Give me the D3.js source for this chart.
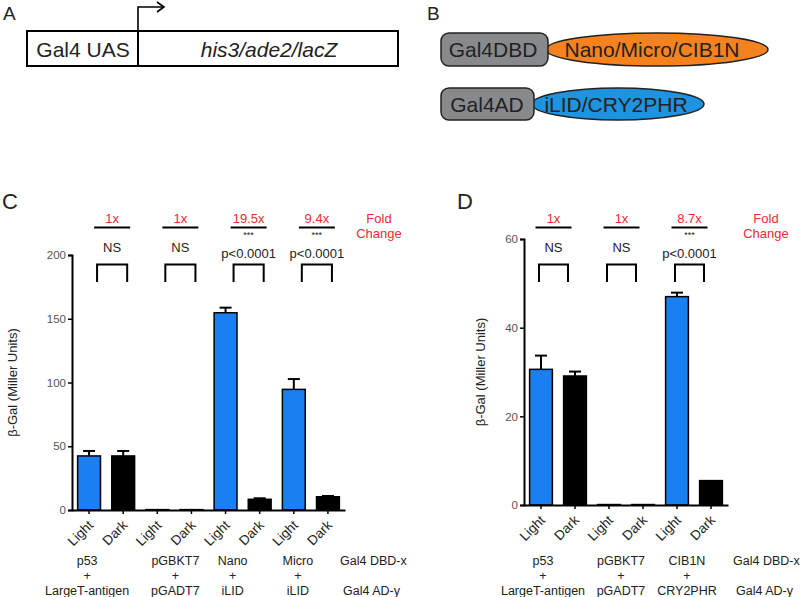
<!DOCTYPE html>
<html><head><meta charset="utf-8">
<script src="https://cdn.jsdelivr.net/npm/d3@7/dist/d3.min.js"></script>
<style>body{margin:0;background:#fff}svg{display:block;font-family:"Liberation Sans",Arial,sans-serif}</style>
</head><body><svg id="c" width="800" height="597"></svg>
<script>
// ---- data ----
const conditions = ["Light", "Dark"];
const groupsC = ["p53", "pGBKT7", "Nano", "Micro"];
const adC = ["LargeT-antigen", "pGADT7", "iLID", "iLID"];
const valuesC = [42.4, 42.4, 0.3, 0.3, 154.7, 8.4, 94.6, 10.4];
const errorsC = [3.9, 3.9, 0, 0, 4.0, 0.8, 8.1, 0.6];
const foldC = ["1x", "1x", "19.5x", "9.4x"];
const sigC = ["NS", "NS", "***", "***"];
const pC = ["", "", "p<0.0001", "p<0.0001"];
const ticksC = [0, 50, 100, 150, 200];

const groupsD = ["p53", "pGBKT7", "CIB1N"];
const adD = ["LargeT-antigen", "pGADT7", "CRY2PHR"];
const valuesD = [30.6, 29.1, 0.1, 0.1, 47.0, 5.5];
const errorsD = [3.1, 1.0, 0, 0, 0.9, 0];
const foldD = ["1x", "1x", "8.7x"];
const sigD = ["NS", "NS", "***"];
const pD = ["", "", "p<0.0001"];
const ticksD = [0, 20, 40, 60];

const BLUE = "#1a7ff0", RED = "#ee2a33", INK = "#222";
const svg = d3.select("#c");

// ---- panel A ----
svg.append("text").attr("x", 3).attr("y", 20).attr("font-size", 19).attr("fill", INK).text("A");
svg.append("rect").attr("x", 27).attr("y", 31).attr("width", 371).attr("height", 35)
  .attr("fill", "none").attr("stroke", "#000").attr("stroke-width", 2);
svg.append("line").attr("x1", 138).attr("x2", 138).attr("y1", 31).attr("y2", 66).attr("stroke", "#000").attr("stroke-width", 2);
svg.append("path").attr("d", "M138,31V7H163").attr("fill", "none").attr("stroke", "#000").attr("stroke-width", 1.6);
svg.append("path").attr("d", "M157,2L164,7L157,12").attr("fill", "none").attr("stroke", "#000").attr("stroke-width", 1.6);
svg.append("text").attr("x", 83).attr("y", 56.5).attr("text-anchor", "middle").attr("font-size", 21).attr("fill", INK).text("Gal4 UAS");
svg.append("text").attr("x", 269).attr("y", 56.5).attr("text-anchor", "middle").attr("font-size", 21).attr("font-style", "italic").attr("fill", INK).text("his3/ade2/lacZ");

// ---- panel B ----
svg.append("text").attr("x", 427).attr("y", 20).attr("font-size", 19).attr("fill", INK).text("B");
svg.append("ellipse").attr("cx", 657).attr("cy", 49.5).attr("rx", 111).attr("ry", 16.5).attr("fill", "#f5821f").attr("stroke", "#222").attr("stroke-width", 1.5);
svg.append("rect").attr("x", 441).attr("y", 33).attr("width", 107).attr("height", 33).attr("rx", 8).attr("fill", "#88898d").attr("stroke", "#222").attr("stroke-width", 1.5);
svg.append("text").attr("x", 493).attr("y", 57).attr("text-anchor", "middle").attr("font-size", 21).attr("fill", INK).text("Gal4DBD");
svg.append("text").attr("x", 652).attr("y", 57).attr("text-anchor", "middle").attr("font-size", 21).attr("fill", INK).text("Nano/Micro/CIB1N");
svg.append("ellipse").attr("cx", 618).attr("cy", 104).attr("rx", 86).attr("ry", 16).attr("fill", "#1e93e0").attr("stroke", "#222").attr("stroke-width", 1.5);
svg.append("rect").attr("x", 441).attr("y", 88).attr("width", 93).attr("height", 32).attr("rx", 8).attr("fill", "#88898d").attr("stroke", "#222").attr("stroke-width", 1.5);
svg.append("text").attr("x", 487).attr("y", 112).attr("text-anchor", "middle").attr("font-size", 21).attr("fill", INK).text("Gal4AD");
svg.append("text").attr("x", 616).attr("y", 112).attr("text-anchor", "middle").attr("font-size", 21).attr("fill", INK).text("iLID/CRY2PHR");

// ---- bar panels ----
function panel(o) {
  const g = svg.append("g");
  const cats = [];
  o.groups.forEach((gr, i) => conditions.forEach(c => cats.push(i + "-" + c)));
  const x = d3.scaleBand().domain(cats).range([o.x0, o.x1]).paddingInner(0.33).paddingOuter(0.165);
  const y = d3.scaleLinear().domain([0, d3.max(o.ticks)]).range([o.y0, o.y1]);
  const cx = i => x(cats[i]) + x.bandwidth() / 2;

  g.append("text").attr("x", o.labX).attr("y", 209).attr("font-size", 22).attr("fill", INK).text(o.label);

  // bars
  g.selectAll("rect.bar").data(o.values).join("rect")
    .attr("x", (d, i) => x(cats[i])).attr("width", x.bandwidth())
    .attr("y", d => y(d)).attr("height", d => o.y0 - y(d))
    .attr("fill", (d, i) => i % 2 === 0 ? BLUE : "#000")
    .attr("stroke", "#000").attr("stroke-width", 1.5);
  // error bars
  o.values.forEach((v, i) => {
    const e = o.errors[i];
    if (e <= 0) return;
    g.append("line").attr("x1", cx(i)).attr("x2", cx(i)).attr("y1", y(v)).attr("y2", y(v + e)).attr("stroke", "#000").attr("stroke-width", 2);
    g.append("line").attr("x1", cx(i) - 6).attr("x2", cx(i) + 6).attr("y1", y(v + e)).attr("y2", y(v + e)).attr("stroke", "#000").attr("stroke-width", 2);
  });

  // axes
  const ya = g.append("g").attr("transform", `translate(${o.x0},0)`)
    .call(d3.axisLeft(y).tickValues(o.ticks).tickSize(4).tickSizeOuter(4).tickPadding(2));
  ya.select(".domain").attr("stroke-width", 2);
  ya.selectAll(".tick line").attr("stroke-width", 1.5);
  ya.selectAll("text").attr("font-size", 11.5).attr("fill", "#555").attr("font-family", "Liberation Sans, Arial");
  const xa = g.append("g").attr("transform", `translate(0,${o.y0})`)
    .call(d3.axisBottom(x).tickSize(4).tickSizeOuter(0).tickFormat(d => d.split("-")[1]));
  xa.select(".domain").attr("stroke-width", 2);
  xa.selectAll(".tick line").attr("stroke-width", 1.5);
  xa.selectAll("text").attr("font-size", 13.5).attr("fill", INK).attr("font-family", "Liberation Sans, Arial")
    .attr("text-anchor", "end").attr("dy", null).attr("y", 0)
    .attr("transform", "translate(5,16) rotate(-45)");

  g.append("text").attr("transform", `translate(${o.yTitleX},${(o.y0 + o.y1) / 2}) rotate(-90)`)
    .attr("text-anchor", "middle").attr("font-size", 13).attr("fill", INK).text("β-Gal (Miller Units)");

  // annotations per group
  o.groups.forEach((gr, i) => {
    const l = cx(2 * i), d = cx(2 * i + 1), m = (l + d) / 2;
    const b0 = l + o.brOff[0], b1 = d + o.brOff[1], bm = (b0 + b1) / 2;
    g.append("path").attr("d", `M${b0},282V264.5H${b1}V282`).attr("fill", "none").attr("stroke", "#000").attr("stroke-width", 2);
    g.append("line").attr("x1", bm - 18).attr("x2", bm + 18).attr("y1", 227.5).attr("y2", 227.5).attr("stroke", "#000").attr("stroke-width", 2);
    g.append("text").attr("x", bm).attr("y", 222.5).attr("text-anchor", "middle").attr("font-size", 13).attr("fill", RED).text(o.fold[i]);
    if (o.sig[i] === "NS") {
      g.append("text").attr("x", bm).attr("y", 251.5).attr("text-anchor", "middle").attr("font-size", 13).attr("fill", INK).text("NS");
    } else {
      g.append("text").attr("x", bm).attr("y", 238).attr("text-anchor", "middle").attr("font-size", 9).attr("fill", INK).text(o.sig[i]);
      g.append("text").attr("x", bm).attr("y", 257.5).attr("text-anchor", "middle").attr("font-size", 13).attr("fill", INK).text(o.p[i]);
    }
    const gx = m + o.grpOff[i];
    g.append("text").attr("x", gx).attr("y", 564.5).attr("text-anchor", "middle").attr("font-size", 12.5).attr("fill", INK).text(gr);
    g.append("text").attr("x", gx).attr("y", 579.5).attr("text-anchor", "middle").attr("font-size", 12.5).attr("fill", INK).text("+");
    g.append("text").attr("x", gx).attr("y", 594.5).attr("text-anchor", "middle").attr("font-size", 12.5).attr("fill", INK).text(o.ad[i]);
  });
  g.append("text").attr("x", o.foldX).attr("y", 222.5).attr("text-anchor", "middle").attr("font-size", 13).attr("fill", RED).text("Fold");
  g.append("text").attr("x", o.foldX).attr("y", 237.5).attr("text-anchor", "middle").attr("font-size", 13).attr("fill", RED).text("Change");
  g.append("text").attr("x", o.rowX).attr("y", 564.5).attr("font-size", 12.5).attr("fill", INK).text("Gal4 DBD-x");
  g.append("text").attr("x", o.rowX + 3).attr("y", 594.5).attr("font-size", 12.5).attr("fill", INK).text("Gal4 AD-y");
}

panel({label: "C", labX: 2, x0: 72, x1: 345, y0: 510, y1: 255, ticks: ticksC,
  groups: groupsC, ad: adC, values: valuesC, errors: errorsC, fold: foldC, sig: sigC, p: pC,
  brOff: [8, 4], grpOff: [-19, 1, -10, -13], foldX: 379, rowX: 340, yTitleX: 17});
panel({label: "D", labX: 457, x0: 524, x1: 728, y0: 505, y1: 239, ticks: ticksD,
  groups: groupsD, ad: adD, values: valuesD, errors: errorsD, fold: foldD, sig: sigD, p: pD,
  brOff: [-2, -7], grpOff: [-15, -5, -7], foldX: 766, rowX: 733, yTitleX: 485});
</script></body></html>
